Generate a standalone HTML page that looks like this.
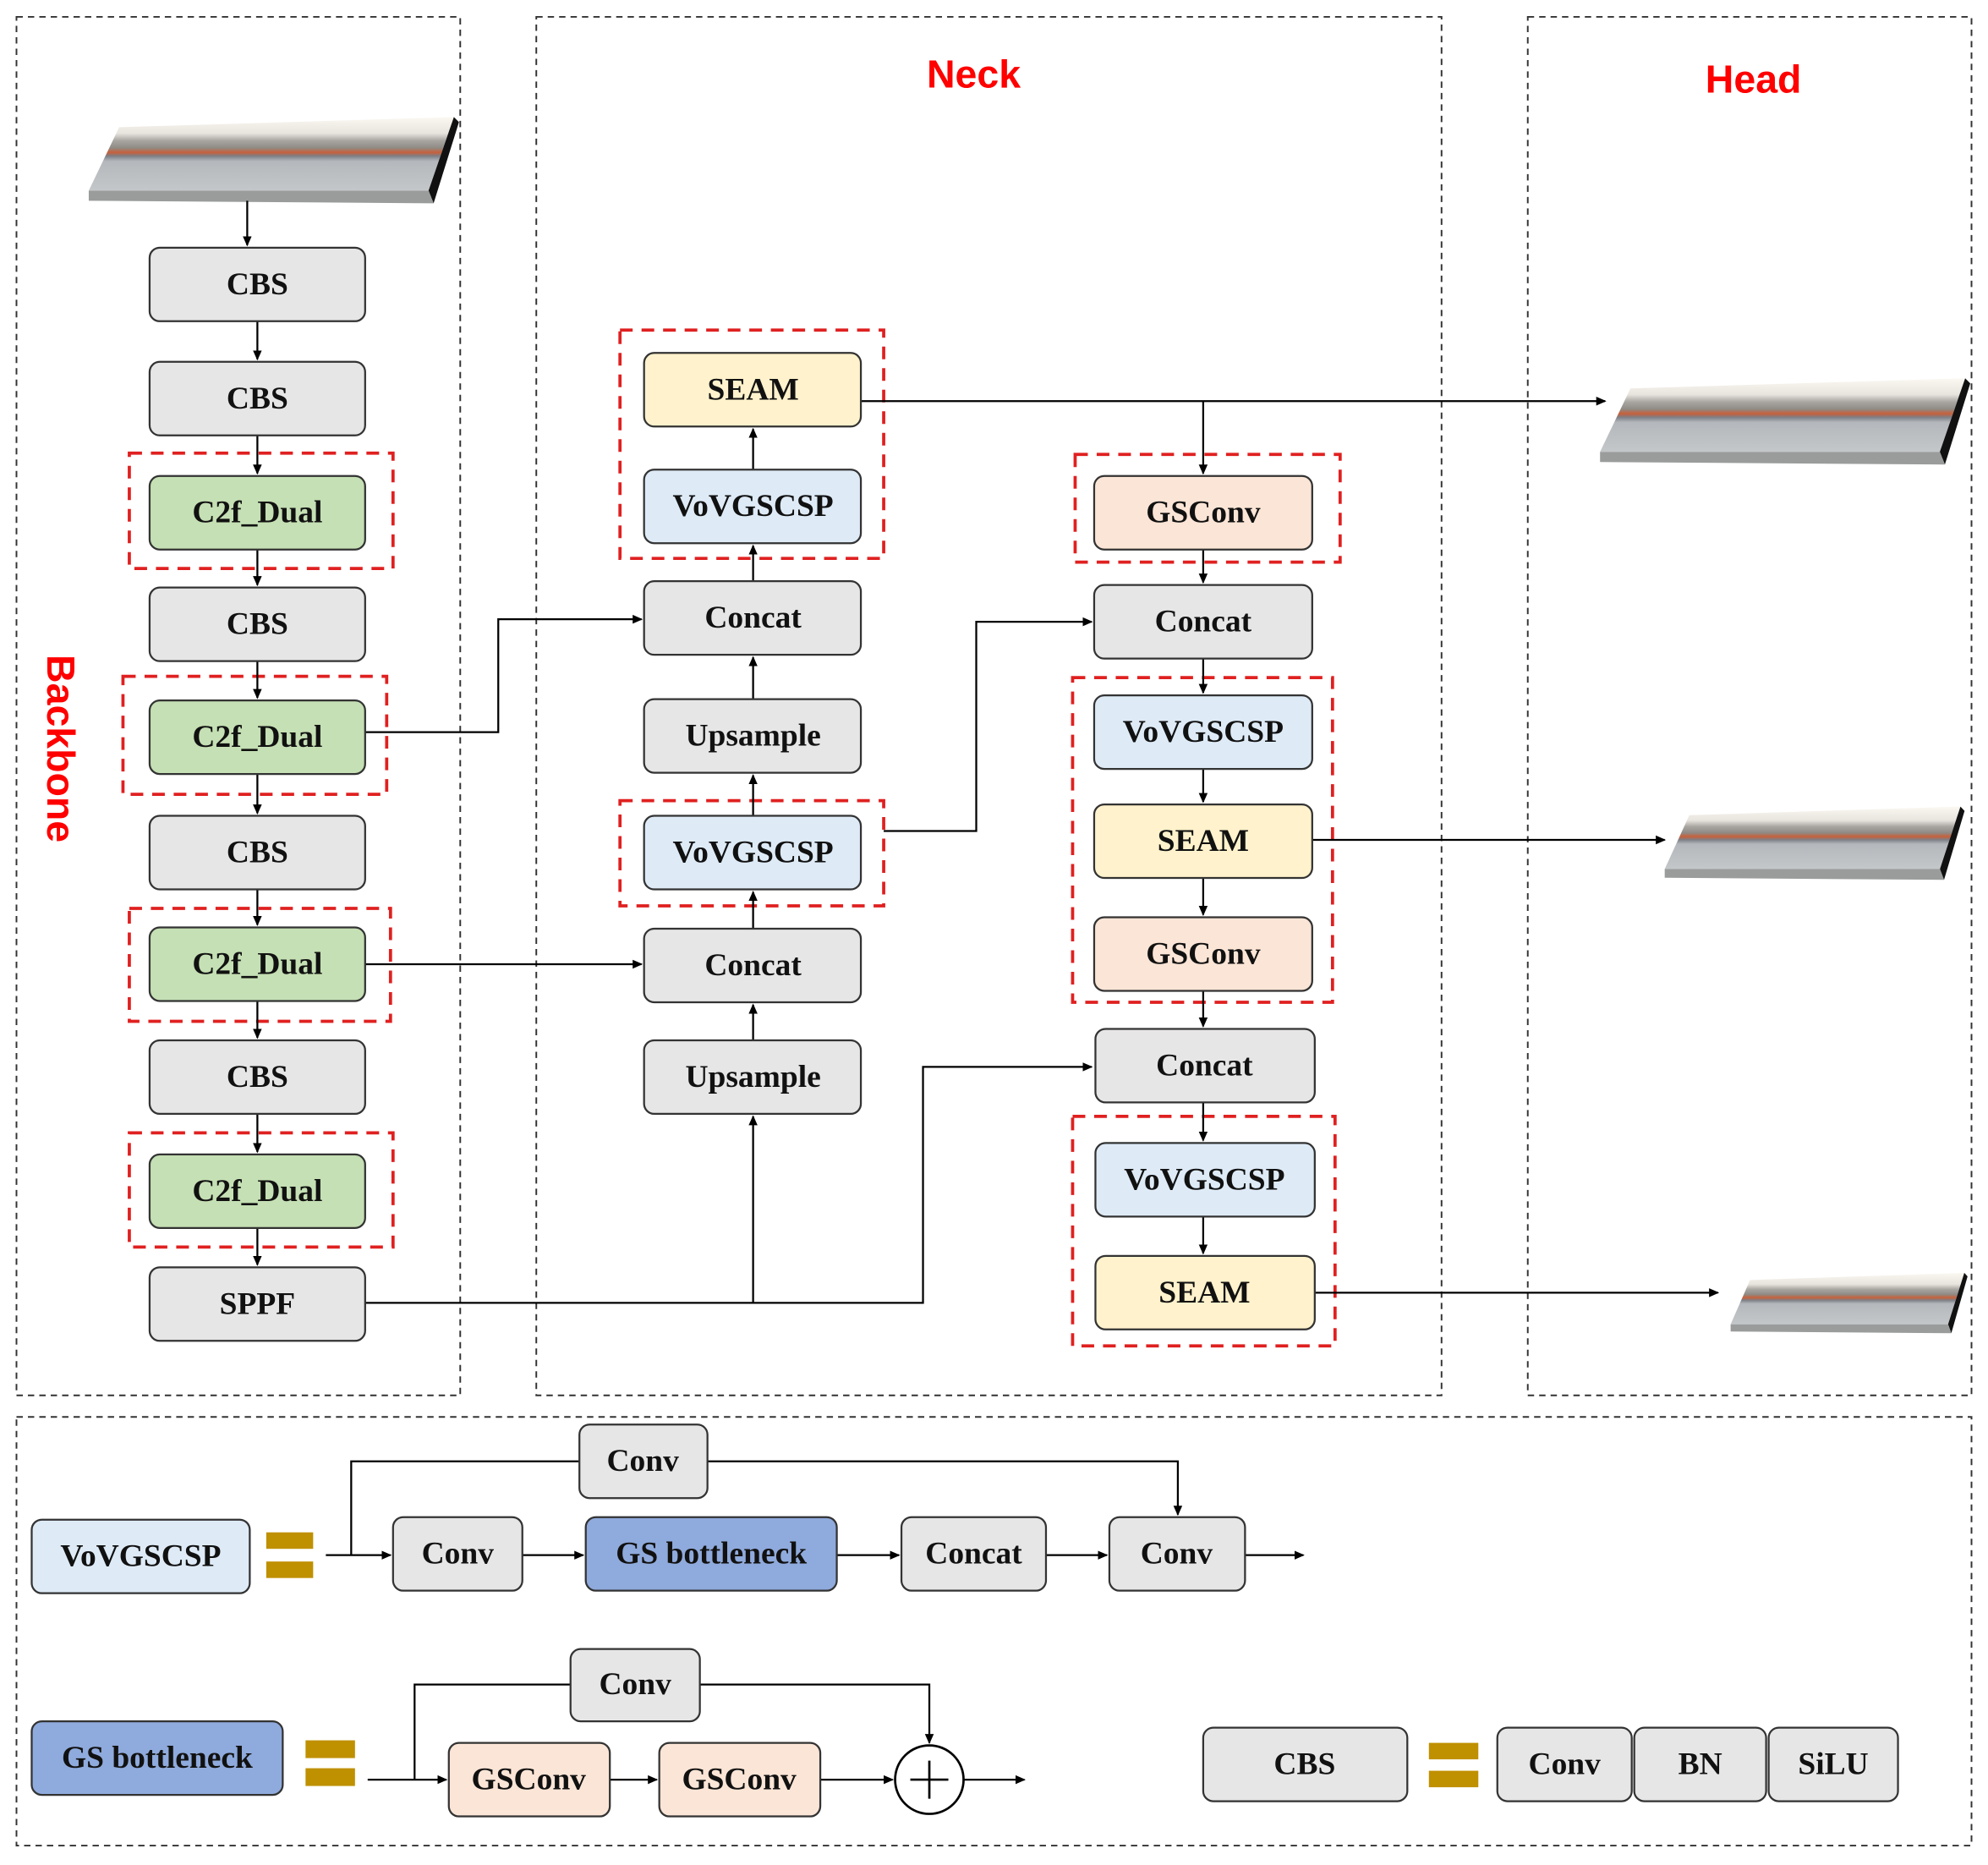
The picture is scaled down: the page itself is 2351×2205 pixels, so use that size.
<!DOCTYPE html>
<html><head><meta charset="utf-8"><style>html,body{margin:0;padding:0;background:#fff}svg{display:block}</style></head><body>
<svg width="2351" height="2205" viewBox="0 0 1568 1470" xmlns="http://www.w3.org/2000/svg">
<defs>
<marker id="a" markerWidth="8" markerHeight="8" refX="7" refY="4" orient="auto" markerUnits="userSpaceOnUse"><path d="M0,0.5 L8,4 L0,7.5z" fill="#000"/></marker>
<linearGradient id="ph" x1="0" y1="0" x2="0" y2="1"><stop offset="0" stop-color="#fbf8f2"/><stop offset="0.22" stop-color="#e8e4de"/><stop offset="0.32" stop-color="#a9a6a2"/><stop offset="0.42" stop-color="#8f8a84"/><stop offset="0.48" stop-color="#c8603a"/><stop offset="0.53" stop-color="#7d7f86"/><stop offset="0.6" stop-color="#b4b8bc"/><stop offset="1" stop-color="#c4c7c9"/></linearGradient>
<g id="img"><polygon points="24,10 288,2 268,60 0,60" fill="url(#ph)"/><polygon points="288,2 292,6 272,70 268,60" fill="#111"/><polygon points="0,60 268,60 272,70 0,68" fill="#9a9c9c"/></g>
</defs>
<style>
text{font-family:"Liberation Serif",serif;font-weight:bold;font-size:25px;text-anchor:middle;dominant-baseline:central;fill:#111}
.b{stroke:#333;stroke-width:1.5}
.d{fill:none;stroke:#333;stroke-width:1.3;stroke-dasharray:5,4}
.r{fill:none;stroke:#e02020;stroke-width:2.5;stroke-dasharray:10,7}
.l{fill:none;stroke:#000;stroke-width:1.5}
.t{font-family:"Liberation Sans",sans-serif;fill:#f00;font-size:31px}
</style>
<rect class="d" x="13" y="13" width="350" height="1087"/>
<rect class="d" x="423" y="13" width="714" height="1087"/>
<rect class="d" x="1205" y="13" width="350" height="1087"/>
<rect class="d" x="13" y="1117" width="1542" height="338"/>
<text class="t" x="768" y="58">Neck</text>
<text class="t" x="1383" y="62">Head</text>
<text class="t" transform="translate(48,590) rotate(90)">Backbone</text>
<use href="#img" transform="translate(70,90)"/>
<use href="#img" transform="translate(1262,296)"/>
<use href="#img" transform="translate(1313,634) scale(0.81,0.85)"/>
<use href="#img" transform="translate(1365,1002) scale(0.64,0.7)"/>
<rect class="r" x="102" y="357" width="208" height="91"/>
<rect class="r" x="97" y="533" width="208" height="93"/>
<rect class="r" x="102" y="716" width="206" height="89"/>
<rect class="r" x="102" y="893" width="208" height="90"/>
<rect class="r" x="489" y="260" width="208" height="180"/>
<rect class="r" x="489" y="631" width="208" height="83"/>
<rect class="r" x="848" y="358" width="209" height="85"/>
<rect class="r" x="846" y="534" width="205" height="256"/>
<rect class="r" x="846" y="880" width="207" height="181"/>
<g class="l">
<path d="M195,158V193" marker-end="url(#a)"/>
<path d="M203,253V283" marker-end="url(#a)"/>
<path d="M203,343V373" marker-end="url(#a)"/>
<path d="M203,433V461" marker-end="url(#a)"/>
<path d="M203,521V550" marker-end="url(#a)"/>
<path d="M203,610V641" marker-end="url(#a)"/>
<path d="M203,701V729" marker-end="url(#a)"/>
<path d="M203,789V818" marker-end="url(#a)"/>
<path d="M203,878V908" marker-end="url(#a)"/>
<path d="M203,968V997" marker-end="url(#a)"/>
<path d="M288,577H393V488H506" marker-end="url(#a)"/>
<path d="M288,760H506" marker-end="url(#a)"/>
<path d="M288,1027H728V841H861" marker-end="url(#a)"/>
<path d="M594,1027V880" marker-end="url(#a)"/>
<path d="M594,820V792" marker-end="url(#a)"/>
<path d="M594,732V703" marker-end="url(#a)"/>
<path d="M594,643V611" marker-end="url(#a)"/>
<path d="M594,551V518" marker-end="url(#a)"/>
<path d="M594,458V430" marker-end="url(#a)"/>
<path d="M594,370V338" marker-end="url(#a)"/>
<path d="M679,316H1266" marker-end="url(#a)"/>
<path d="M949,316V373" marker-end="url(#a)"/>
<path d="M697,655H770V490H861" marker-end="url(#a)"/>
<path d="M949,433V459" marker-end="url(#a)"/>
<path d="M949,519V546" marker-end="url(#a)"/>
<path d="M949,606V632" marker-end="url(#a)"/>
<path d="M949,692V721" marker-end="url(#a)"/>
<path d="M949,781V809" marker-end="url(#a)"/>
<path d="M949,869V899" marker-end="url(#a)"/>
<path d="M949,959V988" marker-end="url(#a)"/>
<path d="M1035,662H1313" marker-end="url(#a)"/>
<path d="M1037,1019H1355" marker-end="url(#a)"/>
<path d="M257,1226H308" marker-end="url(#a)"/>
<path d="M277,1226V1152H929V1194" marker-end="url(#a)"/>
<path d="M412,1226H460" marker-end="url(#a)"/>
<path d="M660,1226H709" marker-end="url(#a)"/>
<path d="M825,1226H873" marker-end="url(#a)"/>
<path d="M982,1226H1028" marker-end="url(#a)"/>
<path d="M290,1403H352" marker-end="url(#a)"/>
<path d="M327,1403V1328H733V1374" marker-end="url(#a)"/>
<path d="M481,1403H518" marker-end="url(#a)"/>
<path d="M647,1403H704" marker-end="url(#a)"/>
<path d="M760,1403H808" marker-end="url(#a)"/>
</g>
<circle cx="733" cy="1403" r="27" fill="#fff" stroke="#000" stroke-width="1.8"/>
<path d="M733,1388V1418M718,1403H748" stroke="#000" stroke-width="1.8"/>
<g class="b">
<rect x="118" y="195" width="170" height="58" rx="8" fill="#e7e6e6"/>
<rect x="118" y="285" width="170" height="58" rx="8" fill="#e7e6e6"/>
<rect x="118" y="375" width="170" height="58" rx="8" fill="#c5e0b4"/>
<rect x="118" y="463" width="170" height="58" rx="8" fill="#e7e6e6"/>
<rect x="118" y="552" width="170" height="58" rx="8" fill="#c5e0b4"/>
<rect x="118" y="643" width="170" height="58" rx="8" fill="#e7e6e6"/>
<rect x="118" y="731" width="170" height="58" rx="8" fill="#c5e0b4"/>
<rect x="118" y="820" width="170" height="58" rx="8" fill="#e7e6e6"/>
<rect x="118" y="910" width="170" height="58" rx="8" fill="#c5e0b4"/>
<rect x="118" y="999" width="170" height="58" rx="8" fill="#e7e6e6"/>
<rect x="508" y="278" width="171" height="58" rx="8" fill="#fff2cc"/>
<rect x="508" y="370" width="171" height="58" rx="8" fill="#deebf7"/>
<rect x="508" y="458" width="171" height="58" rx="8" fill="#e7e6e6"/>
<rect x="508" y="551" width="171" height="58" rx="8" fill="#e7e6e6"/>
<rect x="508" y="643" width="171" height="58" rx="8" fill="#deebf7"/>
<rect x="508" y="732" width="171" height="58" rx="8" fill="#e7e6e6"/>
<rect x="508" y="820" width="171" height="58" rx="8" fill="#e7e6e6"/>
<rect x="863" y="375" width="172" height="58" rx="8" fill="#fbe5d6"/>
<rect x="863" y="461" width="172" height="58" rx="8" fill="#e7e6e6"/>
<rect x="863" y="548" width="172" height="58" rx="8" fill="#deebf7"/>
<rect x="863" y="634" width="172" height="58" rx="8" fill="#fff2cc"/>
<rect x="863" y="723" width="172" height="58" rx="8" fill="#fbe5d6"/>
<rect x="864" y="811" width="173" height="58" rx="8" fill="#e7e6e6"/>
<rect x="864" y="901" width="173" height="58" rx="8" fill="#deebf7"/>
<rect x="864" y="990" width="173" height="58" rx="8" fill="#fff2cc"/>
<rect x="25" y="1198" width="172" height="58" rx="8" fill="#deebf7"/>
<rect x="310" y="1196" width="102" height="58" rx="8" fill="#e7e6e6"/>
<rect x="457" y="1123" width="101" height="58" rx="8" fill="#e7e6e6"/>
<rect x="462" y="1196" width="198" height="58" rx="8" fill="#8faadc"/>
<rect x="711" y="1196" width="114" height="58" rx="8" fill="#e7e6e6"/>
<rect x="875" y="1196" width="107" height="58" rx="8" fill="#e7e6e6"/>
<rect x="25" y="1357" width="198" height="58" rx="8" fill="#8faadc"/>
<rect x="450" y="1300" width="102" height="57" rx="8" fill="#e7e6e6"/>
<rect x="354" y="1374" width="127" height="58" rx="8" fill="#fbe5d6"/>
<rect x="520" y="1374" width="127" height="58" rx="8" fill="#fbe5d6"/>
<rect x="949" y="1362" width="161" height="58" rx="8" fill="#e7e6e6"/>
<rect x="1181" y="1362" width="106" height="58" rx="8" fill="#e7e6e6"/>
<rect x="1289" y="1362" width="104" height="58" rx="8" fill="#e7e6e6"/>
<rect x="1395" y="1362" width="102" height="58" rx="8" fill="#e7e6e6"/>
</g>
<g fill="#bf9000">
<rect x="210" y="1208" width="37" height="13"/><rect x="210" y="1231" width="37" height="13"/>
<rect x="241" y="1372" width="39" height="14"/><rect x="241" y="1394" width="39" height="14"/>
<rect x="1127" y="1374" width="39" height="13"/><rect x="1127" y="1396" width="39" height="13"/>
</g>
<text x="203" y="224">CBS</text><text x="203" y="314">CBS</text><text x="203" y="404">C2f_Dual</text>
<text x="203" y="492">CBS</text><text x="203" y="581">C2f_Dual</text><text x="203" y="672">CBS</text>
<text x="203" y="760">C2f_Dual</text><text x="203" y="849">CBS</text><text x="203" y="939">C2f_Dual</text>
<text x="203" y="1028">SPPF</text>
<text x="594" y="307">SEAM</text><text x="594" y="399">VoVGSCSP</text><text x="594" y="487">Concat</text>
<text x="594" y="580">Upsample</text><text x="594" y="672">VoVGSCSP</text><text x="594" y="761">Concat</text>
<text x="594" y="849">Upsample</text>
<text x="949" y="404">GSConv</text><text x="949" y="490">Concat</text><text x="949" y="577">VoVGSCSP</text>
<text x="949" y="663">SEAM</text><text x="949" y="752">GSConv</text><text x="950" y="840">Concat</text>
<text x="950" y="930">VoVGSCSP</text><text x="950" y="1019">SEAM</text>
<text x="111" y="1227">VoVGSCSP</text><text x="361" y="1225">Conv</text><text x="507" y="1152">Conv</text>
<text x="561" y="1225">GS bottleneck</text><text x="768" y="1225">Concat</text><text x="928" y="1225">Conv</text>
<text x="124" y="1386">GS bottleneck</text><text x="501" y="1328">Conv</text><text x="417" y="1403">GSConv</text>
<text x="583" y="1403">GSConv</text><text x="1029" y="1391">CBS</text><text x="1234" y="1391">Conv</text>
<text x="1341" y="1391">BN</text><text x="1446" y="1391">SiLU</text>
</svg>
</body></html>
